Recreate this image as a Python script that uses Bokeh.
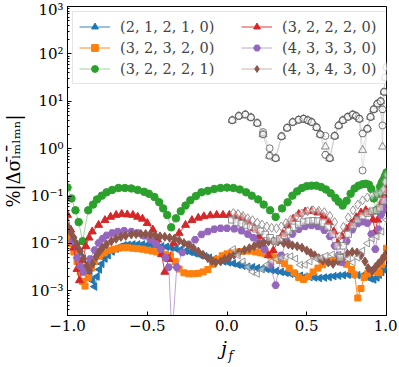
import math
from bokeh.plotting import figure
from bokeh.models import Range1d, FixedTicker, Legend, LegendItem, ColumnDataSource, LinearAxis
from bokeh.embed import file_html
from bokeh.resources import INLINE

labels = ["(2, 1, 2, 1, 0)", "(3, 2, 3, 2, 0)", "(3, 2, 2, 2, 1)",
          "(3, 2, 2, 2, 0)", "(4, 3, 3, 3, 0)", "(4, 3, 4, 3, 0)"]

blue_x = [-1.0, -0.98, -0.96, -0.94, -0.92, -0.90, -0.88, -0.86, -0.845, -0.83, -0.815, -0.80, -0.785, -0.765,
          -0.745, -0.72, -0.695, -0.67, -0.645, -0.62, -0.59, -0.56, -0.53, -0.50, -0.47, -0.44, -0.41, -0.38,
          -0.35, -0.32, -0.29, -0.26, -0.23, -0.20, -0.17, -0.14, -0.11, -0.08, -0.05, -0.02, 0.01, 0.04, 0.07,
          0.10, 0.13, 0.16, 0.19, 0.22, 0.25, 0.28, 0.31, 0.34, 0.37, 0.40, 0.43, 0.46, 0.49, 0.52, 0.55, 0.58,
          0.61, 0.64, 0.67, 0.70, 0.73, 0.76, 0.79, 0.82, 0.85, 0.875, 0.90, 0.92, 0.94, 0.955, 0.97, 0.985, 1.0]
blue_y = [1.91e-2, 1.51e-2, 1.17e-2, 8.91e-3, 6.61e-3, 4.79e-3, 3.39e-3, 2.34e-3, 1.66e-3, 1.23e-3, 2.0e-3,
          2.82e-3, 3.72e-3, 4.79e-3, 5.62e-3, 6.76e-3, 7.76e-3, 8.51e-3, 9.12e-3, 9.33e-3, 9.55e-3, 9.55e-3,
          9.55e-3, 9.33e-3, 9.12e-3, 8.91e-3, 8.71e-3, 8.51e-3, 8.13e-3, 7.76e-3, 7.41e-3, 6.92e-3, 6.61e-3,
          6.17e-3, 5.75e-3, 5.37e-3, 5.01e-3, 4.68e-3, 4.37e-3, 4.17e-3, 3.98e-3, 3.80e-3, 3.55e-3, 3.39e-3,
          3.24e-3, 3.16e-3, 3.02e-3, 2.95e-3, 2.88e-3, 2.75e-3, 2.63e-3, 2.51e-3, 2.40e-3, 2.29e-3, 2.19e-3,
          2.09e-3, 2.0e-3, 1.95e-3, 1.91e-3, 1.86e-3, 1.91e-3, 1.95e-3, 2.04e-3, 2.09e-3, 2.14e-3, 2.19e-3,
          2.19e-3, 2.14e-3, 2.09e-3, 2.0e-3, 1.82e-3, 1.74e-3, 1.91e-3, 2.19e-3, 2.51e-3, 2.82e-3, 3.16e-3]

orange_x = [-1.0, -0.98, -0.96, -0.94, -0.92, -0.905, -0.89, -0.87, -0.85, -0.83, -0.80, -0.77, -0.74, -0.71,
            -0.68, -0.65, -0.62, -0.59, -0.56, -0.53, -0.50, -0.47, -0.44, -0.415, -0.385, -0.355, -0.325, -0.30,
            -0.27, -0.24, -0.21, -0.18, -0.15, -0.12, -0.09, -0.06, -0.03, 0.0, 0.03, 0.06, 0.09, 0.12, 0.15,
            0.18, 0.21, 0.24, 0.27, 0.30, 0.33, 0.36, 0.39, 0.42, 0.45, 0.48, 0.51, 0.54, 0.57, 0.60, 0.63, 0.66,
            0.69, 0.72, 0.75, 0.78, 0.80, 0.82, 0.84, 0.86, 0.88, 0.90, 0.92, 0.94, 0.955, 0.97, 0.985, 1.0]
orange_y = [1.41e-2, 1.0e-2, 6.61e-3, 4.17e-3, 2.51e-3, 1.58e-3, 1.26e-3, 1.91e-3, 3.02e-3, 4.17e-3, 5.37e-3,
            6.31e-3, 7.08e-3, 7.59e-3, 7.94e-3, 8.13e-3, 8.13e-3, 7.94e-3, 7.76e-3, 7.59e-3, 7.24e-3, 6.92e-3,
            6.61e-3, 6.31e-3, 5.89e-3, 5.50e-3, 4.17e-3, 2.88e-3, 2.40e-3, 2.29e-3, 2.29e-3, 2.34e-3, 2.51e-3,
            2.82e-3, 3.63e-3, 4.68e-3, 5.50e-3, 6.03e-3, 6.46e-3, 6.61e-3, 6.76e-3, 6.92e-3, 6.92e-3, 6.61e-3,
            6.31e-3, 6.03e-3, 5.62e-3, 5.01e-3, 4.37e-3, 3.72e-3, 3.02e-3, 2.40e-3, 1.91e-3, 1.74e-3, 2.0e-3,
            2.51e-3, 3.02e-3, 3.55e-3, 4.07e-3, 4.37e-3, 4.47e-3, 4.17e-3, 3.63e-3, 2.82e-3, 2.19e-3, 7.08e-4,
            1.12e-3, 1.91e-3, 2.29e-3, 2.51e-3, 2.69e-3, 2.51e-3, 2.40e-3, 3.55e-3, 5.01e-3, 7.94e-3]

green_x = [-1.0, -0.975, -0.95, -0.93, -0.905, -0.87, -0.84, -0.815, -0.785, -0.755, -0.72, -0.68, -0.64, -0.60,
           -0.56, -0.52, -0.49, -0.455, -0.425, -0.40, -0.375, -0.35, -0.32, -0.29, -0.26, -0.23, -0.195, -0.16,
           -0.12, -0.08, -0.04, 0.0, 0.04, 0.08, 0.12, 0.155, 0.195, 0.23, 0.27, 0.305, 0.345, 0.38, 0.41, 0.44,
           0.47, 0.50, 0.53, 0.56, 0.59, 0.62, 0.65, 0.68, 0.70, 0.725, 0.75, 0.775, 0.80, 0.825, 0.85, 0.87,
           0.89, 0.905, 0.92, 0.935, 0.95, 0.96, 0.97, 0.98, 0.99, 1.0]
green_y = [1.51e-1, 8.91e-2, 5.01e-2, 2.82e-2, 1.12e-2, 5.01e-2, 6.61e-2, 8.51e-2, 1.02e-1, 1.20e-1, 1.35e-1,
           1.48e-1, 1.48e-1, 1.45e-1, 1.35e-1, 1.23e-1, 1.12e-1, 9.55e-2, 7.41e-2, 5.50e-2, 3.98e-2, 2.19e-2,
           3.39e-2, 4.79e-2, 6.31e-2, 8.13e-2, 1.0e-1, 1.20e-1, 1.29e-1, 1.41e-1, 1.48e-1, 1.51e-1, 1.48e-1,
           1.38e-1, 1.20e-1, 1.02e-1, 8.51e-2, 6.61e-2, 5.01e-2, 3.63e-2, 5.50e-2, 7.41e-2, 1.02e-1, 1.26e-1,
           1.48e-1, 1.62e-1, 1.66e-1, 1.66e-1, 1.55e-1, 1.38e-1, 1.15e-1, 9.12e-2, 7.59e-2, 6.31e-2, 7.94e-2,
           1.12e-1, 1.45e-1, 1.66e-1, 1.78e-1, 1.82e-1, 1.74e-1, 1.41e-1, 8.91e-2, 5.01e-2, 1.12e-1, 1.58e-1,
           1.91e-1, 2.19e-1, 2.63e-1, 3.16e-1]

red_x = [-1.0, -0.98, -0.96, -0.94, -0.925, -0.905, -0.885, -0.865, -0.845, -0.805, -0.765, -0.73, -0.695, -0.66,
         -0.625, -0.59, -0.56, -0.53, -0.50, -0.465, -0.435, -0.41, -0.39, -0.365, -0.335, -0.30, -0.26, -0.22,
         -0.18, -0.145, -0.105, -0.065, -0.025, 0.015, 0.055, 0.095, 0.135, 0.17, 0.20, 0.23, 0.26, 0.29, 0.32,
         0.35, 0.38, 0.415, 0.45, 0.49, 0.53, 0.57, 0.605, 0.64, 0.67, 0.695, 0.72, 0.75, 0.78, 0.81, 0.84, 0.87,
         0.895, 0.915, 0.93, 0.945, 0.96, 0.975, 0.99, 1.0]
red_y = [3.98e-2, 1.95e-2, 8.13e-3, 2.88e-3, 1.66e-3, 4.37e-3, 8.71e-3, 1.32e-2, 1.78e-2, 2.45e-2, 3.09e-2,
         3.63e-2, 3.98e-2, 4.17e-2, 4.07e-2, 3.98e-2, 3.63e-2, 3.31e-2, 2.69e-2, 1.95e-2, 1.20e-2, 5.89e-3,
         2.51e-3, 4.68e-3, 1.02e-2, 1.66e-2, 2.45e-2, 3.09e-2, 3.47e-2, 3.72e-2, 3.89e-2, 3.98e-2, 3.98e-2,
         3.98e-2, 3.80e-2, 3.47e-2, 2.82e-2, 2.09e-2, 1.41e-2, 8.91e-3, 5.62e-3, 7.08e-3, 1.12e-2, 1.58e-2,
         2.40e-2, 3.31e-2, 4.17e-2, 4.68e-2, 4.79e-2, 4.47e-2, 3.80e-2, 2.82e-2, 1.78e-2, 1.0e-2, 1.41e-2,
         2.0e-2, 2.63e-2, 3.55e-2, 4.47e-2, 5.01e-2, 4.47e-2, 3.16e-2, 1.78e-2, 3.16e-2, 5.89e-2, 7.94e-2,
         1.12e-1, 1.41e-1]

purple_x = [-1.0, -0.97, -0.94, -0.92, -0.90, -0.88, -0.858, -0.83, -0.805, -0.78, -0.755, -0.72, -0.685, -0.645,
            -0.60, -0.56, -0.52, -0.48, -0.445, -0.415, -0.385, -0.365, -0.345, -0.315, -0.28, -0.24, -0.20,
            -0.16, -0.12, -0.08, -0.04, 0.0, 0.045, 0.09, 0.13, 0.165, 0.20, 0.235, 0.27, 0.305, 0.34, 0.375,
            0.41, 0.45, 0.49, 0.53, 0.57, 0.61, 0.645, 0.675, 0.70, 0.72, 0.75, 0.785, 0.82, 0.85, 0.88, 0.905,
            0.93, 0.95, 0.965, 0.98, 0.99, 1.0]
purple_y = [2.0e-2, 1.12e-2, 5.01e-3, 3.31e-3, 2.51e-3, 3.16e-3, 4.68e-3, 7.24e-3, 1.02e-2, 1.26e-2, 1.48e-2,
            1.66e-2, 1.78e-2, 1.86e-2, 1.78e-2, 1.66e-2, 1.45e-2, 1.20e-2, 9.77e-3, 7.59e-3, 5.01e-3, 3.16e-3,
            1.0e-4, 3.16e-3, 6.46e-3, 9.55e-3, 1.20e-2, 1.55e-2, 1.78e-2, 2.0e-2, 2.09e-2, 2.09e-2, 2.04e-2,
            1.86e-2, 1.58e-2, 1.32e-2, 1.05e-2, 7.59e-3, 3.55e-3, 1.32e-3, 5.62e-3, 1.12e-2, 1.58e-2, 2.0e-2,
            2.29e-2, 2.40e-2, 2.29e-2, 1.91e-2, 1.41e-2, 8.91e-3, 5.62e-3, 3.98e-3, 1.12e-2, 1.95e-2, 2.63e-2,
            2.88e-2, 2.69e-2, 1.58e-2, 7.59e-3, 2.0e-2, 3.98e-2, 5.01e-2, 6.31e-2, 7.94e-2]

brown_x = [-1.0, -0.98, -0.96, -0.94, -0.92, -0.90, -0.878, -0.862, -0.842, -0.821, -0.80, -0.78, -0.755, -0.725,
           -0.695, -0.665, -0.635, -0.60, -0.57, -0.54, -0.51, -0.48, -0.45, -0.42, -0.39, -0.36, -0.33, -0.30,
           -0.27, -0.24, -0.21, -0.18, -0.15, -0.12, -0.095, -0.07, -0.04, -0.015, 0.015, 0.045, 0.075, 0.11,
           0.14, 0.17, 0.20, 0.23, 0.26, 0.29, 0.32, 0.355, 0.385, 0.41, 0.44, 0.47, 0.50, 0.525, 0.55, 0.575,
           0.60, 0.635, 0.665, 0.695, 0.725, 0.755, 0.785, 0.815, 0.84, 0.865, 0.885, 0.91, 0.93, 0.95, 0.97,
           0.985, 1.0]
brown_y = [2.29e-2, 1.74e-2, 1.32e-2, 9.55e-3, 6.92e-3, 4.79e-3, 3.39e-3, 2.69e-3, 3.72e-3, 5.25e-3, 6.76e-3,
           8.13e-3, 9.55e-3, 1.12e-2, 1.26e-2, 1.38e-2, 1.45e-2, 1.55e-2, 1.58e-2, 1.58e-2, 1.58e-2, 1.55e-2,
           1.48e-2, 1.41e-2, 1.38e-2, 1.32e-2, 1.26e-2, 1.15e-2, 1.02e-2, 9.12e-3, 7.94e-3, 6.76e-3, 5.75e-3,
           4.90e-3, 4.27e-3, 3.98e-3, 4.17e-3, 4.68e-3, 5.13e-3, 5.75e-3, 6.46e-3, 7.24e-3, 7.94e-3, 8.71e-3,
           9.55e-3, 1.05e-2, 1.10e-2, 1.12e-2, 1.10e-2, 1.02e-2, 9.55e-3, 9.12e-3, 8.71e-3, 8.13e-3, 7.08e-3,
           6.31e-3, 5.62e-3, 4.90e-3, 4.37e-3, 3.98e-3, 3.72e-3, 4.27e-3, 5.01e-3, 6.03e-3, 6.61e-3, 6.46e-3,
           5.62e-3, 4.17e-3, 3.02e-3, 2.63e-3, 3.16e-3, 3.80e-3, 4.47e-3, 5.25e-3, 6.31e-3]

grey_top_x = [0.033, 0.074, 0.115, 0.15, 0.19, 0.226, 0.267, 0.305, 0.342, 0.377, 0.412, 0.449, 0.48, 0.506,
              0.531, 0.562, 0.585, 0.617, 0.644, 0.675, 0.70, 0.726, 0.757, 0.788, 0.809, 0.83, 0.85, 0.88,
              0.90, 0.92, 0.943, 0.963, 0.975, 0.985, 0.992, 1.0]
grey_pent_y = [3.98, 4.90, 5.25, 4.57, 3.47, 2.00, 0.708, 0.631, 1.82, 2.75, 3.63, 4.07, 4.27, 3.98, 3.63, 2.82,
               2.00, 0.741, 0.631, 1.86, 3.09, 3.98, 4.68, 5.25, 4.90, 4.27, 2.09, 2.63, 4.68, 6.76, 8.91, 10.0,
               6.76, 15.8, 31.6, 52.5]
grey_circ_y = [3.98, 4.90, 5.25, 4.57, 3.47, 2.24, 1.02, 0.631, 1.82, 2.75, 3.63, 4.07, 4.27, 3.98, 3.63, 2.82,
               2.00, 1.86, 0.631, 1.86, 3.09, 3.98, 4.68, 5.25, 4.90, 4.27, 0.347, 2.63, 4.68, 6.76, 8.91, 10.0,
               3.09, 15.8, 31.6, 52.5]
grey_tri_y = [3.98, 4.90, 5.25, 4.57, 3.47, 2.00, 0.708, 0.631, 1.82, 2.75, 3.63, 4.07, 4.27, 3.98, 3.63, 2.82,
              2.00, 1.10, 0.631, 1.86, 3.09, 3.98, 4.68, 5.25, 4.90, 4.27, 0.933, 2.63, 4.68, 6.76, 8.91, 10.0,
              1.10, 15.8, 31.6, 52.5]

grey_diam_x = [0.04, 0.07, 0.10, 0.13, 0.16, 0.19, 0.22, 0.25, 0.28, 0.31, 0.34, 0.37, 0.40, 0.435, 0.47, 0.505,
               0.54, 0.575, 0.61, 0.645, 0.675, 0.705, 0.73, 0.76, 0.79, 0.82, 0.85, 0.88, 0.91, 0.94, 0.963,
               0.98, 0.99, 1.0]
grey_diam_y = [4.37e-2, 4.17e-2, 3.80e-2, 3.39e-2, 3.09e-2, 2.75e-2, 2.51e-2, 2.29e-2, 2.14e-2, 2.09e-2, 2.29e-2,
               2.69e-2, 3.16e-2, 3.72e-2, 4.27e-2, 4.79e-2, 5.01e-2, 4.90e-2, 4.57e-2, 3.80e-2, 2.82e-2, 1.41e-2,
               2.24e-2, 3.55e-2, 5.01e-2, 6.61e-2, 8.13e-2, 9.33e-2, 1.02e-1, 1.12e-1, 1.20e-1, 1.41e-1, 2.0e-1,
               2.82e-1]

grey_sq_x = [0.03, 0.06, 0.09, 0.12, 0.15, 0.18, 0.21, 0.24, 0.27, 0.30, 0.33, 0.36, 0.39, 0.42, 0.45, 0.48, 0.51,
             0.54, 0.57, 0.60, 0.63, 0.66, 0.69, 0.71, 0.73, 0.76, 0.79, 0.82, 0.85, 0.88, 0.91, 0.94, 0.96, 0.98,
             0.99, 1.0]
grey_sq_y = [3.16e-2, 2.82e-2, 2.63e-2, 2.45e-2, 2.29e-2, 2.04e-2, 1.82e-2, 1.55e-2, 1.32e-2, 1.12e-2, 1.26e-2,
             1.48e-2, 1.82e-2, 2.19e-2, 2.51e-2, 2.82e-2, 2.95e-2, 3.02e-2, 2.95e-2, 2.69e-2, 2.24e-2, 1.58e-2,
             8.91e-3, 5.01e-3, 8.91e-3, 1.58e-2, 2.40e-2, 3.16e-2, 3.80e-2, 4.37e-2, 4.79e-2, 5.01e-2, 5.62e-2,
             7.94e-2, 1.26e-1, 2.0e-1]

grey_left_x = [0.04, 0.07, 0.10, 0.13, 0.16, 0.19, 0.22, 0.25, 0.28, 0.31, 0.34, 0.37, 0.40, 0.43, 0.46, 0.49,
               0.52, 0.56, 0.59, 0.62, 0.66, 0.70, 0.73, 0.76, 0.79, 0.82, 0.85, 0.88, 0.91, 0.94, 0.97, 1.0]
grey_left_y = [7.59e-3, 5.62e-3, 4.17e-3, 3.16e-3, 2.51e-3, 2.29e-3, 2.82e-3, 3.55e-3, 4.17e-3, 4.68e-3, 5.01e-3,
               5.25e-3, 5.37e-3, 4.79e-3, 3.55e-3, 3.55e-3, 4.17e-3, 4.79e-3, 5.01e-3, 5.50e-3, 5.89e-3, 5.75e-3,
               5.50e-3, 4.79e-3, 3.98e-3, 5.01e-3, 7.08e-3, 1.0e-2, 1.26e-2, 1.41e-2, 1.78e-2, 3.16e-2]

x_ticks = [-1.0, -0.5, 0.0, 0.5, 1.0]
x_tick_labels = ["\u22121.0", "\u22120.5", "0.0", "0.5", "1.0"]
y_ticks = [1e-3, 1e-2, 1e-1, 1e0, 1e1, 1e2, 1e3]
y_tick_labels = ["10\u207b\u00b3", "10\u207b\u00b2", "10\u207b\u00b9", "10\u2070", "10\u00b9", "10\u00b2", "10\u00b3"]
y_title = "%|\u0394\u03c3\u2097\u0304\u2098\u0304\u2097\u2098\u2099|"
x_title = "j\u00a0"
x_title_sub = "\u00a0\u00a0f"

SERIF = "DejaVu Serif"
p = figure(width=397, height=365, x_range=Range1d(-1.0, 1.0), y_range=Range1d(10 ** -3.52, 1e3),
           y_axis_type="log", output_backend="svg", toolbar_location=None,
           min_border_left=62, min_border_right=11, min_border_top=6, min_border_bottom=40)
p.xgrid.visible = False
p.ygrid.visible = False
p.outline_line_color = "black"
p.outline_line_width = 1
p.background_fill_color = "white"
p.border_fill_color = "white"

p.xaxis.ticker = FixedTicker(ticks=x_ticks)
p.xaxis.major_label_overrides = dict(zip(x_ticks, x_tick_labels))
minor = [m * 10.0 ** e for e in range(-4, 3) for m in range(2, 10)]
p.yaxis.ticker = FixedTicker(ticks=y_ticks, minor_ticks=minor)
p.yaxis.major_label_overrides = dict(zip(y_ticks, y_tick_labels))
for ax in (p.xaxis, p.yaxis):
    ax.major_label_text_font = SERIF
    ax.major_label_text_font_size = "15px"
    ax.major_label_text_color = "black"
    ax.major_tick_in = 4
    ax.major_tick_out = 0
    ax.minor_tick_in = 2
    ax.minor_tick_out = 0
    ax.axis_line_color = "black"
    ax.major_label_standoff = 4
    ax.axis_label_text_font = SERIF
    ax.axis_label_text_color = "black"
    ax.axis_label_standoff = 3
p.xaxis.minor_tick_line_color = None
p.yaxis.axis_label = y_title
p.yaxis.axis_label_text_font_size = "18px"
p.yaxis.axis_label_text_font_style = "normal"
p.xaxis.axis_label = x_title
p.xaxis.axis_label_text_font_size = "19px"
p.xaxis.axis_label_text_font_style = "italic"

# subscript f of the x title, carried by a bare extra axis
sub_axis = LinearAxis(ticker=FixedTicker(ticks=[]), axis_label=x_title_sub,
                      axis_line_color=None, major_tick_line_color=None, minor_tick_line_color=None,
                      major_label_text_font_size="0px", major_tick_in=0, major_tick_out=0,
                      minor_tick_in=0, minor_tick_out=0, major_label_standoff=0,
                      axis_label_text_font=SERIF, axis_label_text_font_size="12px",
                      axis_label_text_font_style="italic", axis_label_text_color="black",
                      axis_label_standoff=-13)
p.add_layout(sub_axis, "below")

colors = ["#1f77b4", "#ff7f0e", "#2ca02c", "#d62728", "#9467bd", "#8c564b"]
line_alpha = [0.9, 0.9, 0.45, 0.9, 0.6, 0.45]
series = [
    (blue_x, blue_y, dict(marker="triangle", angle=math.pi / 2, size=7.5)),
    (orange_x, orange_y, dict(marker="square", size=6)),
    (green_x, green_y, dict(marker="circle", size=7.5)),
    (red_x, red_y, dict(marker="triangle", size=8)),
    (purple_x, purple_y, dict(marker="hex", size=7.5)),
    (brown_x, brown_y, dict(marker="diamond", size=9)),
]

items = []
for (xs, ys, mk), c, la, lab in zip(series, colors, line_alpha, labels):
    src = ColumnDataSource(dict(x=xs, y=ys))
    lr = p.line("x", "y", source=src, line_color=c, line_width=1, line_alpha=la)
    sr = p.scatter("x", "y", source=src, fill_color=c, line_color=c, **mk)
    items.append(LegendItem(label=lab, renderers=[lr, sr]))

grey_sets = [
    (grey_left_x, grey_left_y, dict(marker="triangle", angle=math.pi / 2, size=7), "#8a8a8a"),
    (grey_sq_x, grey_sq_y, dict(marker="square", size=6.5), "#808080"),
    (grey_diam_x, grey_diam_y, dict(marker="diamond", size=9), "#8a8a8a"),
    (grey_top_x, grey_tri_y, dict(marker="triangle", size=8), "#777777"),
    (grey_top_x, grey_circ_y, dict(marker="circle", size=7), "#666666"),
    (grey_top_x, grey_pent_y, dict(marker="hex", size=7.5), "#555555"),
]
for xs, ys, mk, ec in grey_sets:
    src = ColumnDataSource(dict(x=xs, y=ys))
    p.line("x", "y", source=src, line_color="#c8c8c8", line_width=0.7, line_alpha=0.8)
    p.scatter("x", "y", source=src, fill_color="white", fill_alpha=0.45, line_color=ec,
              line_width=1, line_alpha=0.9, **mk)

legend = Legend(items=items, location="top_left", orientation="vertical", nrows=3)
legend.label_text_font = SERIF
legend.label_text_font_size = "14.5px"
legend.glyph_width = 31
legend.glyph_height = 17
legend.label_height = 17
legend.label_standoff = 10
legend.label_width = 117
legend.padding = 6
legend.spacing = 4
legend.margin = 5
legend.border_line_color = "#cccccc"
legend.border_line_width = 1
legend.background_fill_alpha = 0.85
p.add_layout(legend)

open("out.html", "w").write(file_html(p, INLINE))
